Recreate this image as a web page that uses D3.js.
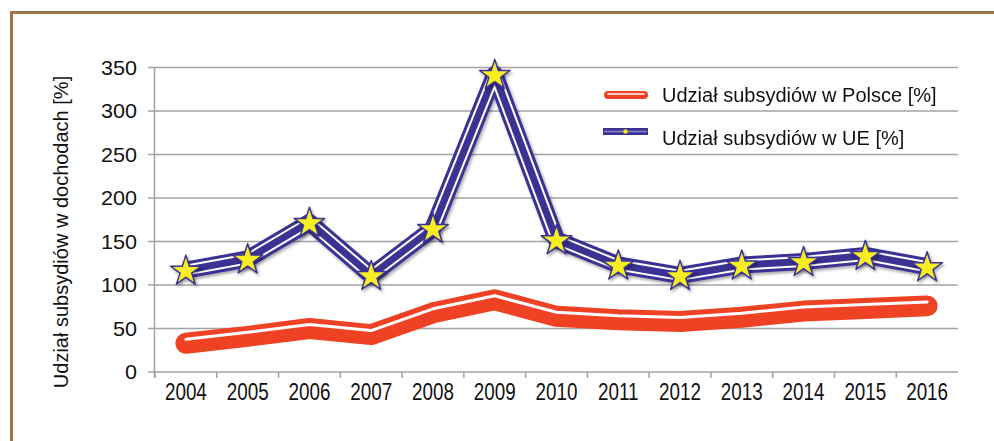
<!DOCTYPE html>
<html>
<head>
<meta charset="utf-8">
<script src="https://cdn.jsdelivr.net/npm/d3@7"></script>
<style>
  body { margin: 0; background: #fff; }
  text { font-family: "Liberation Sans", Arial, sans-serif; fill: #111; }
</style>
</head>
<body>
<div id="chart-area"></div>
<script>
const years = ["2004","2005","2006","2007","2008","2009","2010","2011","2012","2013","2014","2015","2016"];
const polska = [33, 41, 50, 43, 68, 83, 64, 60, 58, 63, 70, 73, 76];
const ue = [117, 130, 172, 111, 165, 342, 152, 123, 111, 123, 127, 134, 121];
const yTicks = [0, 50, 100, 150, 200, 250, 300, 350];
const seriesNames = ["Udział subsydiów w Polsce [%]", "Udział subsydiów w UE [%]"];

const W = 994, H = 441;
const red = "#ef4124", blue = "#3b3294", yellow = "#f7ee22";

const svg = d3.select("#chart-area").append("svg")
    .attr("width", W)
    .attr("height", H);

const defs = svg.append("defs");
const shadow = defs.append("filter").attr("id", "shadow")
    .attr("x", "-20%").attr("y", "-20%").attr("width", "140%").attr("height", "140%");
shadow.append("feDropShadow")
    .attr("dx", 1.5).attr("dy", 2).attr("stdDeviation", 1.5)
    .attr("flood-color", "#000").attr("flood-opacity", 0.35);

// frame
svg.append("path")
    .attr("d", `M11.5,${H} L11.5,12.5 L${W},12.5`)
    .attr("fill", "none")
    .attr("stroke", "#9b7650")
    .attr("stroke-width", 3);

const x = d3.scaleBand().domain(years).range([155, 958]);
const y = d3.scaleLinear().domain([0, 350]).range([372, 67.5]);

// gridlines
svg.append("g")
    .selectAll("line")
    .data(yTicks)
    .join("line")
    .attr("x1", 148).attr("x2", 958)
    .attr("y1", d => y(d)).attr("y2", d => y(d))
    .attr("stroke", "#a3a3a3")
    .attr("stroke-width", 1.5);

// y axis line
svg.append("line")
    .attr("x1", 154.5).attr("x2", 154.5)
    .attr("y1", y(350)).attr("y2", 378)
    .attr("stroke", "#a3a3a3").attr("stroke-width", 1.5);

// x ticks at band edges
svg.append("g")
    .selectAll("line")
    .data(years)
    .join("line")
    .attr("x1", d => x(d)).attr("x2", d => x(d))
    .attr("y1", y(0)).attr("y2", 378)
    .attr("stroke", "#a3a3a3").attr("stroke-width", 1.5);

// y tick labels
svg.append("g")
    .selectAll("text")
    .data(yTicks)
    .join("text")
    .attr("transform", d => `translate(137,${y(d) + 7}) scale(1.08,1)`)
    .attr("text-anchor", "end")
    .attr("font-size", "20px")
    .text(d => d);

// x labels (narrow)
svg.append("g")
    .selectAll("text")
    .data(years)
    .join("text")
    .attr("transform", d => `translate(${x(d) + x.bandwidth() / 2},400) scale(0.82,1)`)
    .attr("text-anchor", "middle")
    .attr("font-size", "23px")
    .text(d => d);

// y axis title
svg.append("text")
    .attr("transform", "translate(68,232) rotate(-90)")
    .attr("text-anchor", "middle")
    .attr("font-size", "20px")
    .text("Udział subsydiów w dochodach [%]");

const cx = (d, i) => x(years[i]) + x.bandwidth() / 2;
const lineP = d3.line().x(cx).y(d => y(d));
const lineHi = d3.line().x(cx).y(d => y(d) - 4);

// Polska series
const gp = svg.append("g");
gp.append("path")
    .attr("d", lineP(polska))
    .attr("fill", "none").attr("stroke", red).attr("stroke-width", 21)
    .attr("stroke-linejoin", "round").attr("stroke-linecap", "round");
gp.append("path")
    .attr("d", lineHi(polska))
    .attr("fill", "none").attr("stroke", "#fff").attr("stroke-width", 3)
    .attr("stroke-linejoin", "round").attr("stroke-linecap", "round");

// UE series
const gu = svg.append("g");
const gl = gu.append("g").attr("filter", "url(#shadow)");
[[17, blue], [11, "#fff"], [7, blue]].forEach(([w, c]) => {
    gl.append("path")
        .attr("d", lineP(ue))
        .attr("fill", "none").attr("stroke", c).attr("stroke-width", w)
        .attr("stroke-linejoin", "round");
});
const star = d3.symbol().type(d3.symbolStar).size(290);
gu.append("g").attr("filter", "url(#shadow)")
    .selectAll("path")
    .data(ue)
    .join("path")
    .attr("transform", (d, i) => `translate(${cx(d, i)},${y(d) + 1})`)
    .attr("d", star)
    .attr("fill", yellow)
    .attr("stroke", blue)
    .attr("stroke-width", 1.5)
    .attr("stroke-linejoin", "round");

// legend
const lg = svg.append("g");
lg.append("line")
    .attr("x1", 608).attr("x2", 644).attr("y1", 95).attr("y2", 95)
    .attr("stroke", red).attr("stroke-width", 8).attr("stroke-linecap", "round");
lg.append("line")
    .attr("x1", 608).attr("x2", 644).attr("y1", 94).attr("y2", 94)
    .attr("stroke", "#fff").attr("stroke-width", 1.5).attr("stroke-linecap", "round");
lg.append("rect")
    .attr("x", 603).attr("y", 128).attr("width", 45).attr("height", 7)
    .attr("fill", blue);
lg.append("line")
    .attr("x1", 604).attr("x2", 647).attr("y1", 131.5).attr("y2", 131.5)
    .attr("stroke", "#8a86c8").attr("stroke-width", 1.5);
lg.append("circle")
    .attr("cx", 625.5).attr("cy", 131.5).attr("r", 2.2)
    .attr("fill", yellow);
lg.selectAll("text")
    .data(seriesNames)
    .join("text")
    .attr("x", 662)
    .attr("y", (d, i) => 102 + i * 43)
    .attr("font-size", "20px")
    .text(d => d);
</script>
</body>
</html>
